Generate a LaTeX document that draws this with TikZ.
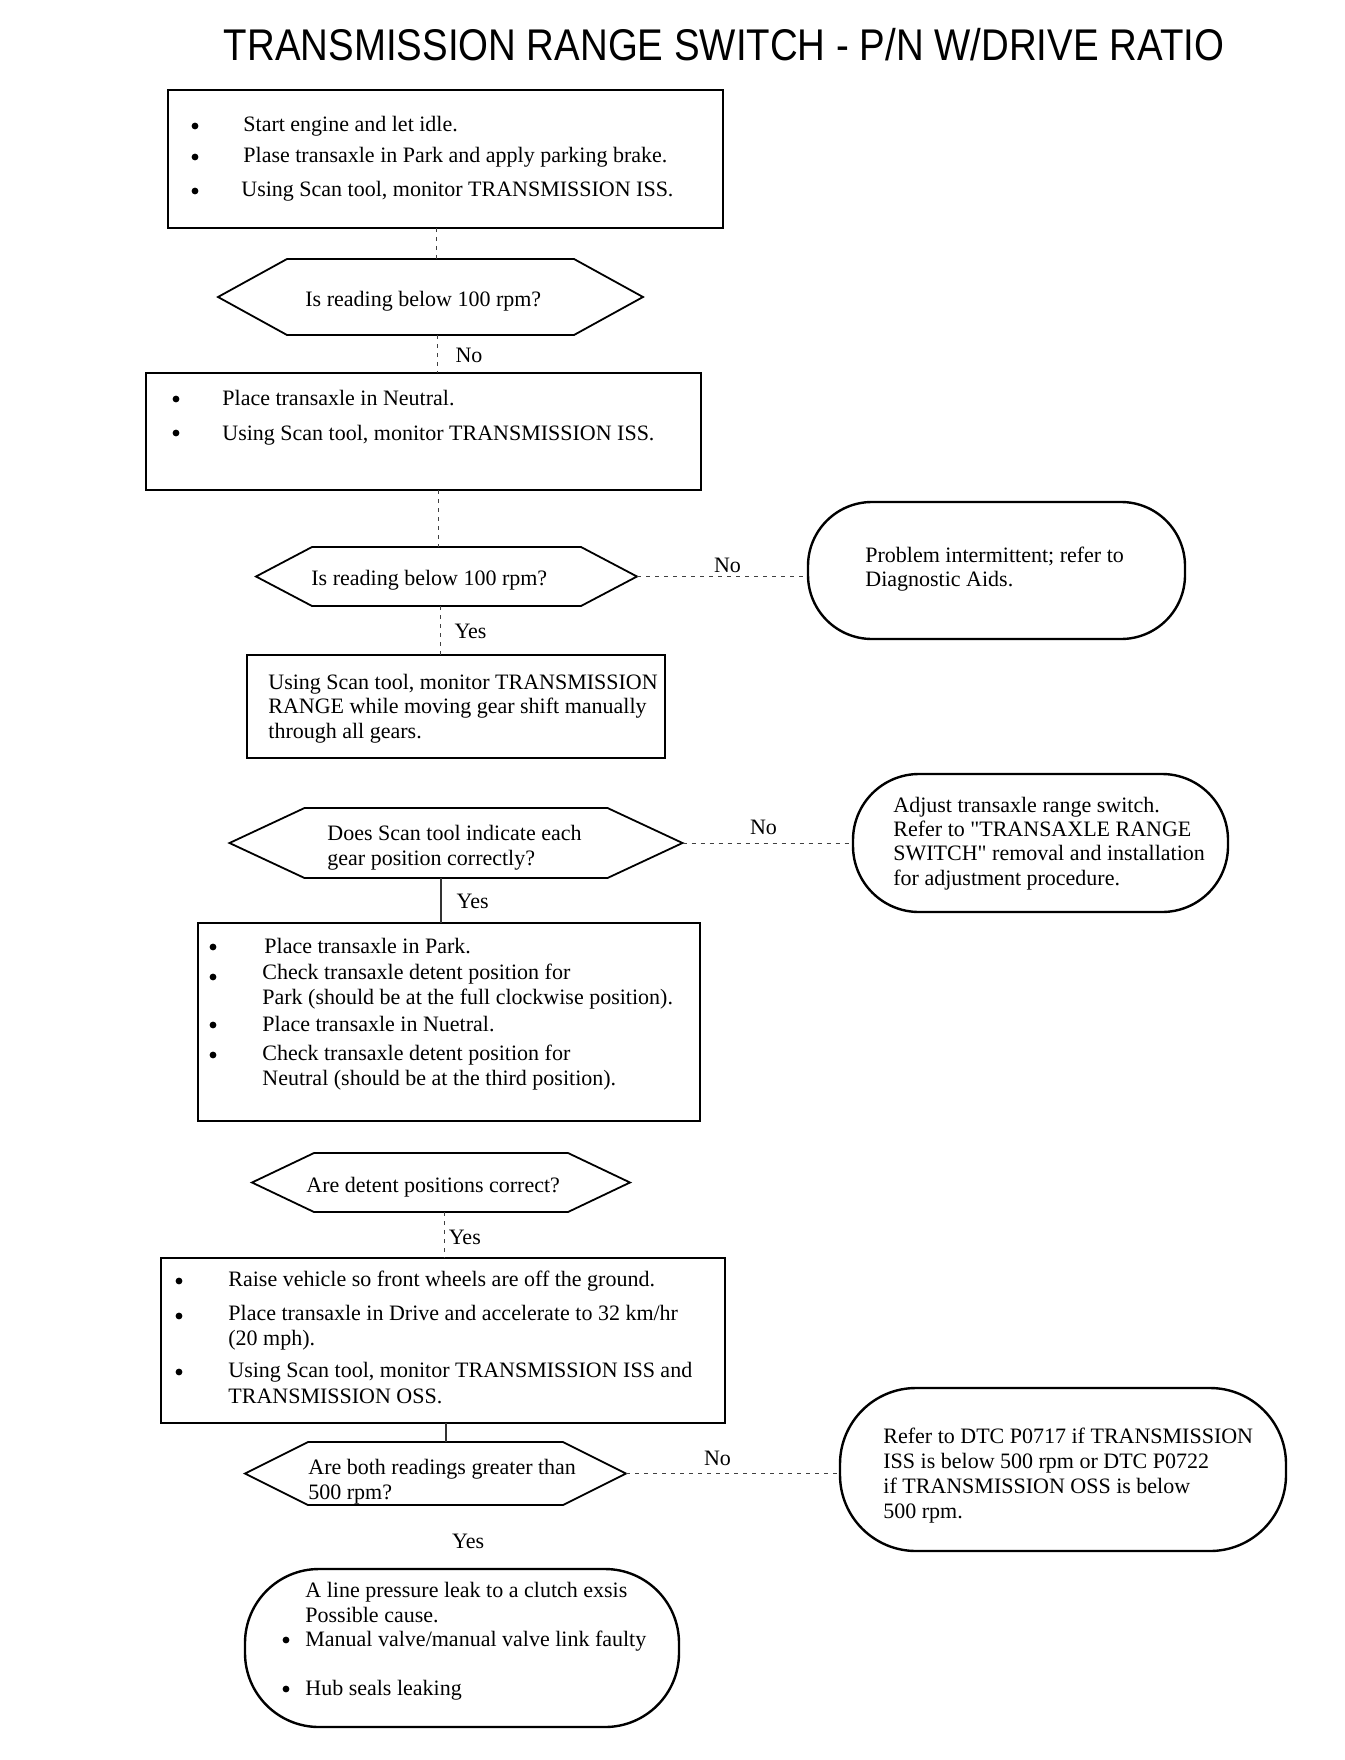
\documentclass[tikz,border=0pt]{standalone}
\usepackage{fontspec}
\setmainfont{Liberation Serif}
\newfontfamily\titlefont[FakeStretch=0.865]{Liberation Sans}
\newcommand\myBody{\fontsize{11}{13}\selectfont}
\newcommand\hexdraw[2]{\draw[hexline] (#1.west) -- ([xshift=#2]#1.north west) -- ([xshift=-#2]#1.north east) -- (#1.east) -- ([xshift=-#2]#1.south east) -- ([xshift=#2]#1.south west) -- cycle;}
\tikzset{
 boxnode/.style={draw, line width=1.2pt, inner sep=0pt, outer sep=0pt, rectangle},
 hexnode/.style={inner sep=0pt, outer sep=0pt, rectangle},
 hexline/.style={line width=0.9pt, line join=miter},
 termnode/.style={draw, line width=1.2pt, inner sep=0pt, outer sep=0pt, rectangle, rounded corners=#1},
 txt/.style={anchor=base west, inner sep=0pt, font=\myBody},
 lbl/.style={inner sep=0pt, font=\myBody},
 bul/.style={circle, fill, inner sep=0pt, minimum size=3.4pt},
 conn/.style={line width=0.5pt, black!75, dash pattern=on 2pt off 2.5pt},
 connsolid/.style={line width=0.6pt, black!80},
}
\begin{document}
\begin{tikzpicture}[x=0.5pt,y=-0.5pt]
\useasboundingbox (0,0) rectangle (1344,1760);
\fill[white] (0,0) rectangle (1344,1760);

% title
\node[inner sep=0pt, font=\titlefont\fontsize{22.2}{25}\selectfont] (title) at (724,45) {TRANSMISSION RANGE SWITCH - P/N W/DRIVE RATIO};

% ---------- Box 1
\node[boxnode, minimum width=277.5pt, minimum height=69pt] (box1) at (445.5,159) {};
\node[bul] (b11) at (195,126) {};
\node[bul] (b12) at (195,157) {};
\node[bul] (b13) at (195,191) {};
\node[txt] (t11) at (243,132) {Start engine and let idle.};
\node[txt] (t12) at (243,163) {Plase transaxle in Park and apply parking brake.};
\node[txt] (t13) at (241,197) {Using Scan tool, monitor TRANSMISSION ISS.};

% ---------- Diamond 1
\node[hexnode, minimum width=212.5pt, minimum height=38pt] (d1) at (430.5,297) {};
\hexdraw{d1}{34.5pt}
\node[txt] (d1t) at (305,306) {Is reading below 100 rpm?};
\node[lbl] (d1no) at (469,355) {No};

% ---------- Box 2
\node[boxnode, minimum width=277.5pt, minimum height=58.5pt] (box2) at (423.5,431.5) {};
\node[bul] (b21) at (176,399) {};
\node[bul] (b22) at (176,433) {};
\node[txt] (t21) at (222,405) {Place transaxle in Neutral.};
\node[txt] (t22) at (222,440) {Using Scan tool, monitor TRANSMISSION ISS.};

% ---------- Diamond 2
\node[hexnode, minimum width=190.5pt, minimum height=29.5pt] (d2) at (446.5,576.5) {};
\hexdraw{d2}{28pt}
\node[txt] (d2t) at (311,585) {Is reading below 100 rpm?};
\node[lbl] (d2no) at (727.5,565) {No};
\node[lbl] (d2yes) at (470.5,631) {Yes};

% ---------- Terminal 1
\node[termnode=32pt, minimum width=188.5pt, minimum height=68.5pt] (term1) at (996.5,570.5) {};
\node[txt] (tm11) at (865,562) {Problem intermittent; refer to};
\node[txt] (tm12) at (865,586) {Diagnostic Aids.};

% ---------- Box 3
\node[boxnode, minimum width=209pt, minimum height=51.5pt] (box3) at (456,706.5) {};
\node[txt] (t31) at (268,689) {Using Scan tool, monitor TRANSMISSION};
\node[txt] (t32) at (268,713) {RANGE while moving gear shift manually};
\node[txt] (t33) at (268,738) {through all gears.};

% ---------- Diamond 3
\node[hexnode, minimum width=226.5pt, minimum height=35pt] (d3) at (456,843) {};
\hexdraw{d3}{37.5pt}
\node[txt] (d3t1) at (327,840) {Does Scan tool indicate each};
\node[txt] (d3t2) at (327,865) {gear position correctly?};
\node[lbl] (d3no) at (763.5,827.5) {No};
\node[lbl] (d3yes) at (472.7,901.6) {Yes};

% ---------- Terminal 2
\node[termnode=33pt, minimum width=187.5pt, minimum height=69pt] (term2) at (1040.5,843) {};
\node[txt] (tm21) at (893,812) {Adjust transaxle range switch.};
\node[txt] (tm22) at (893,836) {Refer to \textquotedbl TRANSAXLE RANGE};
\node[txt] (tm23) at (893,860) {SWITCH\textquotedbl{} removal and installation};
\node[txt] (tm24) at (893,885) {for adjustment procedure.};

% ---------- Box 4
\node[boxnode, minimum width=251pt, minimum height=99pt] (box4) at (449,1022) {};
\node[bul] (b41) at (213,947) {};
\node[bul] (b42) at (213,977) {};
\node[bul] (b43) at (213,1025) {};
\node[bul] (b44) at (213,1055) {};
\node[txt] (t41) at (264,953) {Place transaxle in Park.};
\node[txt] (t42) at (262,979) {Check transaxle detent position for};
\node[txt] (t43) at (262,1004) {Park (should be at the full clockwise position).};
\node[txt] (t44) at (262,1031) {Place transaxle in Nuetral.};
\node[txt] (t45) at (262,1060) {Check transaxle detent position for};
\node[txt] (t46) at (262,1085) {Neutral (should be at the third position).};

% ---------- Diamond 4
\node[hexnode, minimum width=189pt, minimum height=29.5pt] (d4) at (441,1182.5) {};
\hexdraw{d4}{31pt}
\node[txt] (d4t) at (306,1192) {Are detent positions correct?};
\node[lbl] (d4yes) at (464.8,1237.3) {Yes};

% ---------- Box 5
\node[boxnode, minimum width=282pt, minimum height=82.5pt] (box5) at (443,1340.5) {};
\node[bul] (b51) at (179,1281) {};
\node[bul] (b52) at (179,1316) {};
\node[bul] (b53) at (179,1372) {};
\node[txt] (t51) at (228,1286) {Raise vehicle so front wheels are off the ground.};
\node[txt] (t52) at (228,1320) {Place transaxle in Drive and accelerate to 32 km/hr};
\node[txt] (t53) at (228,1345) {(20 mph).};
\node[txt] (t54) at (228,1377) {Using Scan tool, monitor TRANSMISSION ISS and};
\node[txt] (t55) at (228,1403) {TRANSMISSION OSS.};

% ---------- Diamond 5
\node[hexnode, minimum width=190.5pt, minimum height=31.5pt] (d5) at (435.5,1473.5) {};
\hexdraw{d5}{31.5pt}
\node[txt] (d5t1) at (308,1474) {Are both readings greater than};
\node[txt] (d5t2) at (308,1499) {500 rpm?};
\node[lbl] (d5no) at (717.5,1458.5) {No};
\node[lbl] (d5yes) at (468.2,1541.6) {Yes};

% ---------- Terminal 3
\node[termnode=38pt, minimum width=223pt, minimum height=81.5pt] (term3) at (1063,1469.5) {};
\node[txt] (tm31) at (883,1443) {Refer to DTC P0717 if TRANSMISSION};
\node[txt] (tm32) at (883,1468) {ISS is below 500 rpm or DTC P0722};
\node[txt] (tm33) at (883,1493) {if TRANSMISSION OSS is below};
\node[txt] (tm34) at (883,1518) {500 rpm.};

% ---------- Terminal 4
\node[termnode=37pt, minimum width=217pt, minimum height=79pt] (term4) at (462,1648) {};
\node[txt] (tm41) at (305,1597) {A line pressure leak to a clutch exsis};
\node[txt] (tm42) at (305,1622) {Possible cause.};
\node[bul] (b61) at (286,1640) {};
\node[bul] (b62) at (286,1689) {};
\node[txt] (tm43) at (305,1646) {Manual valve/manual valve link faulty};
\node[txt] (tm44) at (305,1695) {Hub seals leaking};

% ---------- connectors
\coordinate (cx1) at (436,0);
\coordinate (cx2) at (437,0);
\coordinate (cx3) at (438,0);
\coordinate (cx4) at (440,0);
\coordinate (cx5) at (441,0);
\coordinate (cx6) at (444,0);
\coordinate (cx7) at (446,0);
\draw[conn] (box1.south -| cx1) -- (d1.north -| cx1);
\draw[conn] (d1.south -| cx2) -- (box2.north -| cx2);
\draw[conn] (box2.south -| cx3) -- (d2.north -| cx3);
\draw[conn] (d2.south -| cx4) -- (box3.north -| cx4);
\draw[connsolid] (d3.south -| cx5) -- (box4.north -| cx5);
\draw[conn] (d4.south -| cx6) -- (box5.north -| cx6);
\draw[connsolid] (box5.south -| cx7) -- (d5.north -| cx7);
\draw[conn] (d2.east) -- (d2.east -| term1.west);
\draw[conn] (d3.east) -- (d3.east -| term2.west);
\draw[conn] (d5.east) -- (d5.east -| term3.west);
\end{tikzpicture}
\end{document}
